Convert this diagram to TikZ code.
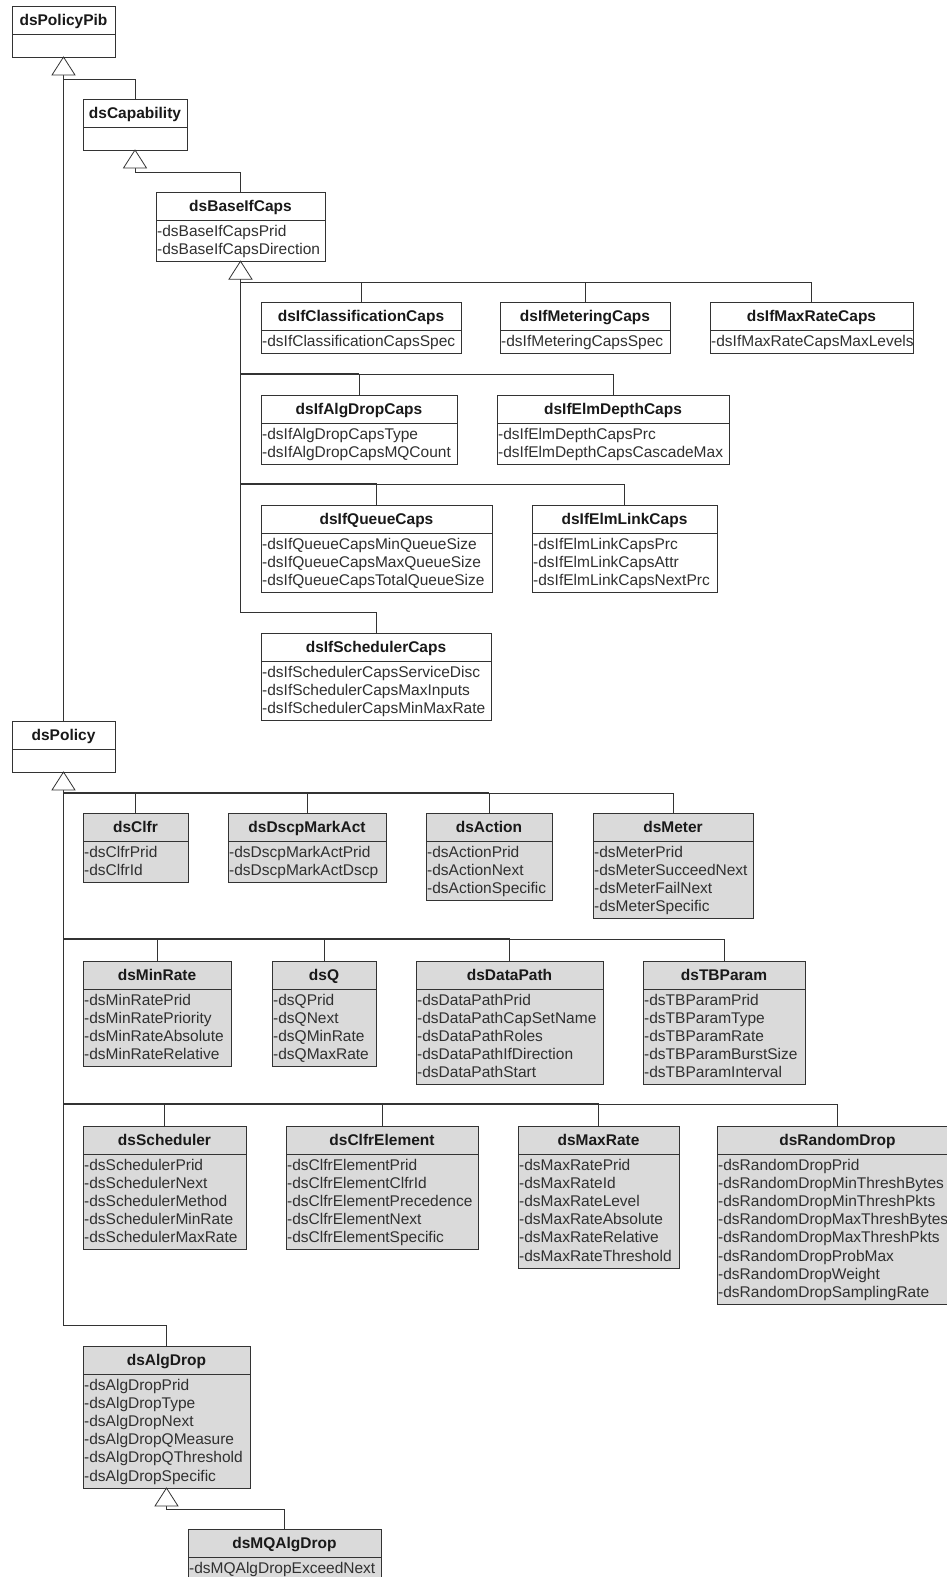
\documentclass[tikz,border=0pt]{standalone}
\usepackage{fontspec}
\setmainfont{Liberation Sans}
\usetikzlibrary{calc}
\definecolor{boxgray}{HTML}{DADADA}
\definecolor{linegray}{HTML}{333333}
\definecolor{attrgray}{HTML}{303030}
\tikzset{
  classbox/.style={draw=linegray, line width=0.8pt, inner sep=0pt, outer sep=0pt, anchor=north west},
  sepline/.style={draw=linegray, line width=0.8pt},
  ttl/.style={font=\bfseries\fontsize{15.5}{18}\selectfont, anchor=base, inner sep=0pt, text=black!90},
  attr/.style={font=\fontsize{15.5}{18}\selectfont, anchor=base west, inner sep=0pt, text=attrgray},
  conn/.style={draw=linegray, line width=0.8pt},
  trunk/.style={draw=linegray, line width=1.8pt},
  gentri/.style={draw=linegray, line width=0.8pt, fill=white, line join=miter},
}
% name, x1, y1, x2, number of attributes, fill, title, attributes
\newcommand{\umlbox}[8]{%
  \pgfmathsetmacro\bxw{#4-#2}%
  \pgfmathsetmacro\bxh{51+18.2*max(#5-1,0)}%
  \node[classbox, fill=#6, minimum width=\bxw pt, minimum height=\bxh pt] (#1) at (#2,-#3) {};
  \draw[sepline] ($(#1.north west)+(0,-28)$) -- ($(#1.north east)+(0,-28)$);
  \node[ttl] at ($(#1.north)+(0,-19)$) {#7};
  \ifnum#5>0
    \foreach \attrname [count=\attri] in {#8} {
      \node[attr] at ($(#1.north west)+(1,-44-18.2*\attri+18.2)$) {\attrname};
    }
  \fi
}
\newcommand{\gentriangle}[1]{%
  \draw[gentri] (#1.south) -- ++(-11.5,-18) -- ++(23,0) -- cycle;
}
\begin{document}
\begin{tikzpicture}[x=1pt,y=1pt]
\useasboundingbox (0,0) rectangle (947,-1577);
\clip (0,0) rectangle (947,-1577);
\fill[white] (0,0) rectangle (947,-1577);

% ---------- upper hierarchy ----------
\umlbox{pib}{12}{6}{115}{0}{white}{dsPolicyPib}{}
\umlbox{cap}{83}{99}{187}{0}{white}{dsCapability}{}
\umlbox{baseif}{156}{192}{325}{2}{white}{dsBaseIfCaps}{-dsBaseIfCapsPrid,-dsBaseIfCapsDirection}
\umlbox{clsc}{261}{302}{461}{1}{white}{dsIfClassificationCaps}{-dsIfClassificationCapsSpec}
\umlbox{metc}{500}{302}{670}{1}{white}{dsIfMeteringCaps}{-dsIfMeteringCapsSpec}
\umlbox{maxc}{710}{302}{913}{1}{white}{dsIfMaxRateCaps}{-dsIfMaxRateCapsMaxLevels}
\umlbox{algc}{261}{395}{457}{2}{white}{dsIfAlgDropCaps}{-dsIfAlgDropCapsType,-dsIfAlgDropCapsMQCount}
\umlbox{depc}{497}{395}{729}{2}{white}{dsIfElmDepthCaps}{-dsIfElmDepthCapsPrc,-dsIfElmDepthCapsCascadeMax}
\umlbox{quec}{261}{505}{492}{3}{white}{dsIfQueueCaps}{-dsIfQueueCapsMinQueueSize,-dsIfQueueCapsMaxQueueSize,-dsIfQueueCapsTotalQueueSize}
\umlbox{linc}{532}{505}{717}{3}{white}{dsIfElmLinkCaps}{-dsIfElmLinkCapsPrc,-dsIfElmLinkCapsAttr,-dsIfElmLinkCapsNextPrc}
\umlbox{schc}{261}{633}{491}{3}{white}{dsIfSchedulerCaps}{-dsIfSchedulerCapsServiceDisc,-dsIfSchedulerCapsMaxInputs,-dsIfSchedulerCapsMinMaxRate}

% ---------- lower hierarchy ----------
\umlbox{pol}{12}{721}{115}{0}{white}{dsPolicy}{}
\umlbox{clfr}{83}{813}{188}{2}{boxgray}{dsClfr}{-dsClfrPrid,-dsClfrId}
\umlbox{dscp}{228}{813}{386}{2}{boxgray}{dsDscpMarkAct}{-dsDscpMarkActPrid,-dsDscpMarkActDscp}
\umlbox{act}{426}{813}{552}{3}{boxgray}{dsAction}{-dsActionPrid,-dsActionNext,-dsActionSpecific}
\umlbox{met}{593}{813}{753}{4}{boxgray}{dsMeter}{-dsMeterPrid,-dsMeterSucceedNext,-dsMeterFailNext,-dsMeterSpecific}
\umlbox{minr}{83}{961}{231}{4}{boxgray}{dsMinRate}{-dsMinRatePrid,-dsMinRatePriority,-dsMinRateAbsolute,-dsMinRateRelative}
\umlbox{dsq}{272}{961}{376}{4}{boxgray}{dsQ}{-dsQPrid,-dsQNext,-dsQMinRate,-dsQMaxRate}
\umlbox{dp}{416}{961}{603}{5}{boxgray}{dsDataPath}{-dsDataPathPrid,-dsDataPathCapSetName,-dsDataPathRoles,-dsDataPathIfDirection,-dsDataPathStart}
\umlbox{tbp}{643}{961}{805}{5}{boxgray}{dsTBParam}{-dsTBParamPrid,-dsTBParamType,-dsTBParamRate,-dsTBParamBurstSize,-dsTBParamInterval}
\umlbox{sch}{83}{1126}{246}{5}{boxgray}{dsScheduler}{-dsSchedulerPrid,-dsSchedulerNext,-dsSchedulerMethod,-dsSchedulerMinRate,-dsSchedulerMaxRate}
\umlbox{cle}{286}{1126}{478}{5}{boxgray}{dsClfrElement}{-dsClfrElementPrid,-dsClfrElementClfrId,-dsClfrElementPrecedence,-dsClfrElementNext,-dsClfrElementSpecific}
\umlbox{maxr}{518}{1126}{679}{6}{boxgray}{dsMaxRate}{-dsMaxRatePrid,-dsMaxRateId,-dsMaxRateLevel,-dsMaxRateAbsolute,-dsMaxRateRelative,-dsMaxRateThreshold}
\umlbox{rnd}{717}{1126}{958}{8}{boxgray}{dsRandomDrop}{-dsRandomDropPrid,-dsRandomDropMinThreshBytes,-dsRandomDropMinThreshPkts,-dsRandomDropMaxThreshBytes,-dsRandomDropMaxThreshPkts,-dsRandomDropProbMax,-dsRandomDropWeight,-dsRandomDropSamplingRate}
\umlbox{alg}{83}{1346}{250}{6}{boxgray}{dsAlgDrop}{-dsAlgDropPrid,-dsAlgDropType,-dsAlgDropNext,-dsAlgDropQMeasure,-dsAlgDropQThreshold,-dsAlgDropSpecific}
\umlbox{mqa}{188}{1529}{381}{1}{boxgray}{dsMQAlgDrop}{-dsMQAlgDropExceedNext}

% ---------- triangle bases and bus corners ----------
\coordinate (t1) at ($(pib.south)+(0,-18)$);
\coordinate (j1) at ($(pib.south)+(0,-22)$);
\coordinate (t2) at ($(cap.south)+(0,-18)$);
\coordinate (j2) at ($(cap.south)+(0,-22)$);
\coordinate (t3) at ($(baseif.south)+(0,-18)$);
\coordinate (b1) at ($(t3)+(0,-3)$);
\coordinate (b2) at (t3 |- 0,-374);
\coordinate (b3) at (t3 |- 0,-484);
\coordinate (b4) at (t3 |- 0,-612);
\coordinate (t4) at ($(pol.south)+(0,-18)$);
\coordinate (p1) at ($(t4)+(0,-3)$);
\coordinate (p2) at (t4 |- 0,-939);
\coordinate (p3) at (t4 |- 0,-1104);
\coordinate (p4) at (t4 |- 0,-1325);
\coordinate (t5) at ($(alg.south)+(0,-18)$);
\coordinate (q1) at ($(t5)+(0,-3)$);

% ---------- connectors ----------
\draw[conn] (pol.north) -- (t1);
\draw[conn] (cap.north) |- (j1) -- (t1);
\draw[conn] (baseif.north) |- (j2) -- (t2);
\foreach \c in {clsc,metc,maxc} { \draw[conn] (\c.north) |- (b1) -- (t3); }
\foreach \c in {algc,depc} { \draw[conn] (\c.north) |- (b2) -- (t3); }
\foreach \c in {quec,linc} { \draw[conn] (\c.north) |- (b3) -- (t3); }
\draw[conn] (schc.north) |- (b4) -- (t3);
\draw[trunk] (t3) -- (b3);
\draw[trunk] (b2) -- (b2 -| algc.north);
\draw[trunk] (b3) -- (b3 -| quec.north);

\foreach \c in {clfr,dscp,act,met} { \draw[conn] (\c.north) |- (p1) -- (t4); }
\foreach \c in {minr,dsq,dp,tbp} { \draw[conn] (\c.north) |- (p2) -- (t4); }
\foreach \c in {sch,cle,maxr,rnd} { \draw[conn] (\c.north) |- (p3) -- (t4); }
\draw[conn] (alg.north) |- (p4) -- (t4);
\draw[trunk] (t4) -- (p3);
\draw[trunk] (p1) -- (p1 -| act.north);
\draw[trunk] (p2) -- (p2 -| dp.north);
\draw[trunk] (p3) -- (p3 -| maxr.north);
\draw[conn] (mqa.north) |- (q1) -- (t5);

% ---------- generalization triangles ----------
\gentriangle{pib}
\gentriangle{cap}
\gentriangle{baseif}
\gentriangle{pol}
\gentriangle{alg}
\end{tikzpicture}
\end{document}
